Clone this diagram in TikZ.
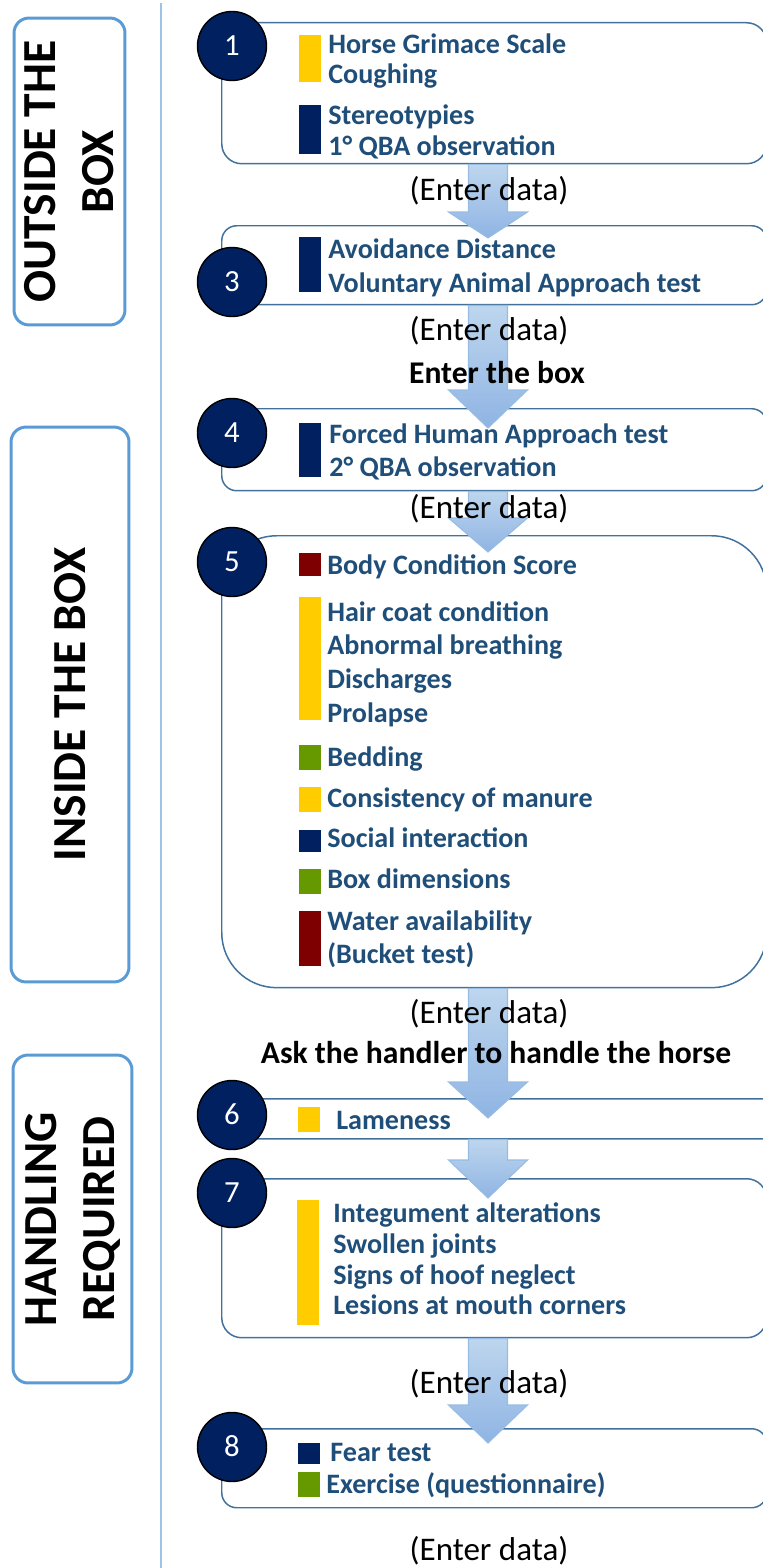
\documentclass[tikz,border=0pt]{standalone}
\usepackage{fontspec}
\setmainfont{Carlito}
\usetikzlibrary{calc}
\definecolor{navyfill}{RGB}{0,32,96}
\definecolor{itemblue}{RGB}{31,78,121}
\definecolor{boxline}{RGB}{65,113,156}
\definecolor{sideline}{RGB}{91,155,213}
\definecolor{sepline}{RGB}{157,195,230}
\definecolor{arrowtop}{RGB}{190,214,238}
\definecolor{arrowbot}{RGB}{143,180,227}
\definecolor{arrowedge}{RGB}{150,188,228}
\definecolor{baryellow}{RGB}{255,204,0}
\definecolor{barnavy}{RGB}{0,32,96}
\definecolor{barred}{RGB}{127,0,0}
\definecolor{bargreen}{RGB}{102,153,0}
\tikzset{
  % side label box
  sidebox/.style={rectangle, rounded corners=0.3cm, draw=sideline, line width=1.7pt, rotate=90,
                  align=center, font=\fontsize{27}{33}\selectfont\bfseries, inner sep=0pt},
  % step box
  stepbox/.style={rectangle, rounded corners=#1, draw=boxline, line width=0.85pt, anchor=north west,
                  minimum width=10.9cm, inner sep=0pt},
  stepbox/.default={0.4cm},
  % number circle
  stepnum/.style={circle, draw=black, line width=0.8pt, fill=navyfill, text=white, minimum size=1.38cm,
                  inner sep=0pt, font=\fontsize{17.5}{21}\selectfont, text height=11.2pt, text depth=0pt},
  % item label
  itemtext/.style={anchor=west, inner sep=0pt, text=itemblue, font=\fontsize{16}{19}\selectfont\bfseries,
                   text height=10.4pt, text depth=0pt},
  % data entry label
  datatext/.style={inner sep=0pt, font=\fontsize{18.8}{22}\selectfont, text height=12pt, text depth=0pt},
  cuetext/.style={inner sep=0pt, font=\fontsize{18}{22}\selectfont\bfseries, text height=11.6pt, text depth=0pt},
  % block arrow
  arrowbody/.style={top color=arrowtop, bottom color=arrowbot, draw=arrowedge, line width=0.6pt},
}
% block arrow: start, tip, head length
\newcommand{\flowarrow}[3]{%
  \draw[arrowbody] let \p1=(#1), \p2=(#2) in
    (\x1-0.39cm,\y1) -- (\x1+0.39cm,\y1) -- (\x1+0.39cm,\y2+#3) -- (\x1+0.79cm,\y2+#3)
    -- (\x1,\y2) -- (\x1-0.79cm,\y2+#3) -- (\x1-0.39cm,\y2+#3) -- cycle;}

\begin{document}
\begin{tikzpicture}[x=0.02cm, y=-0.02cm]
  \useasboundingbox (0,0) rectangle (763,1568);
  \clip (0,0) rectangle (763,1568);

  % side labels
  \node[sidebox, minimum width=6.14cm, minimum height=2.22cm] (outside) at (69.5,171.5) {OUTSIDE THE\\BOX};
  \node[sidebox, minimum width=11.1cm, minimum height=2.36cm] (inside) at (70,704.5) {INSIDE THE BOX};
  \node[sidebox, minimum width=6.56cm, minimum height=2.38cm] (handling) at (72.5,1219) {HANDLING\\REQUIRED};
  \draw[sepline, line width=0.8pt] (161,3) -- (161,1568);

  % step boxes
  \node[stepbox, minimum height=2.82cm] (b1) at (221,22) {};
  \node[stepbox=0.3cm, minimum height=1.58cm] (b3) at (221,225) {};
  \node[stepbox=0.3cm, minimum height=1.64cm] (b4) at (221,408) {};
  \node[stepbox=1.1cm, minimum height=9.04cm] (b5) at (221,535) {};
  \node[stepbox=0.2cm, minimum height=0.8cm, minimum width=11.58cm] (b6) at (221,1098) {};
  \node[stepbox, minimum height=3.18cm] (b7) at (221,1178) {};
  \node[stepbox=0.3cm, minimum height=1.58cm] (b8) at (221,1428) {};

  % arrows
  \coordinate (spine) at (488,0);
  \coordinate (t1) at (488,238);
  \coordinate (t2) at (488,428);
  \coordinate (t3) at (488,552);
  \coordinate (t4) at (488,1118);
  \coordinate (t5) at (488,1198);
  \coordinate (t6) at (488,1443);
  \flowarrow{b1.south -| spine}{t1}{0.52cm}
  \flowarrow{b3.south -| spine}{t2}{0.76cm}
  \flowarrow{b4.south -| spine}{t3}{0.68cm}
  \flowarrow{b5.south -| spine}{t4}{0.72cm}
  \flowarrow{b6.south -| spine}{t5}{0.76cm}
  \flowarrow{b7.south -| spine}{t6}{0.76cm}

  % colour bars
  \foreach \c/\xa/\ya/\yb in {baryellow/299/35/82, barnavy/299/105/154, barnavy/299/237/292,
      barnavy/299/423/477, barred/299/553/576, baryellow/299/597/720, bargreen/299/745/770,
      baryellow/299/787/812, barnavy/299/830/852, bargreen/299/869/894, barred/299/911/966,
      baryellow/298/1107/1132, baryellow/297/1200/1325, barnavy/298/1443/1464, bargreen/298/1472/1497}
    \fill[\c] (\xa,\ya) rectangle (\xa+22,\yb);

  % items
  \foreach \x/\y/\t [count=\i] in {328/44/{Horse Grimace Scale}, 328/74/{Coughing}, 328/115/{Stereotypies},
      328/146/{1° QBA observation}, 328/249/{Avoidance Distance}, 328/283/{Voluntary Animal Approach test},
      329/434/{Forced Human Approach test}, 329/467/{2° QBA observation},
      327/565/{Body Condition Score}, 327/612/{Hair coat condition}, 327/645/{Abnormal breathing},
      327/679/{Discharges}, 327/713/{Prolapse}, 327/757/{Bedding}, 327/798/{Consistency of manure},
      327/838/{Social interaction}, 327/879/{Box dimensions}, 327/921/{Water availability},
      327/954/{(Bucket test)}, 336/1120/{Lameness}, 333/1213/{Integument alterations},
      333/1244/{Swollen joints}, 333/1275/{Signs of hoof neglect}, 333/1305/{Lesions at mouth corners},
      330/1452/{Fear test}, 326/1484/{Exercise (questionnaire)}}
    \node[itemtext] (item\i) at (\x,\y) {\t};

  % data entry labels
  \foreach \y [count=\i] in {190,330,508,1013,1383,1550}
    \node[datatext] (data\i) at (489,\y) {(Enter data)};
  \node[cuetext] (enterbox) at (497,373) {Enter the box};
  \node[cuetext] (askhandler) at (496,1053) {Ask the handler to handle the horse};

  % step numbers
  \foreach \n/\y in {1/46,3/282,4/433,5/562,6/1115,7/1193,8/1447}
    \node[stepnum] (n\n) at (232,\y) {\n};
\end{tikzpicture}
\end{document}
